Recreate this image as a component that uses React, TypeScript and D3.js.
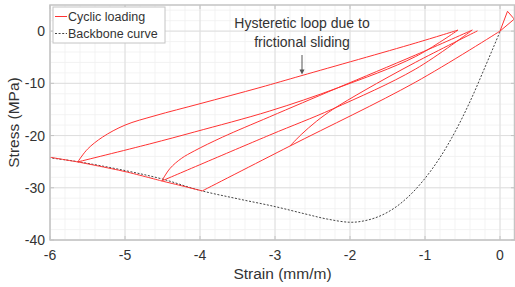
import * as d3 from "d3";

// strain (mm/m), stress (MPa)
const backbone: [number, number][] = [
  [-6.3, -23.5], [-6, -24.25], [-5.63, -25.0], [-5, -26.7], [-4.51, -28.3],
  [-4, -30.5], [-3.5, -32.1], [-3, -33.6], [-2.6, -35.0], [-2.3, -36.0],
  [-2, -36.6], [-1.8, -36.3], [-1.6, -35.4], [-1.4, -33.8], [-1.2, -31.4],
  [-1, -28.2], [-0.8, -24.2], [-0.6, -19.3], [-0.4, -13.5], [-0.2, -6.9], [0, -0.1],
];

// cyclic loading branches
const preload: [number, number][] = [[0, 0], [0.1, 3.8], [0.19, 2.3], [0, 0]];
const firstLoading: [number, number][] = [[0, 0], [-1.13, -9.8], [-2.8, -22.0], [-3.97, -30.6]];
const unloadK: [number, number][] = [
  [-2.8, -22], [-2.65, -19.8], [-2.45, -17.3], [-2.23, -15.0], [-1.8, -11.3], [-1.13, -6.0], [-0.3, 0.05],
];
const envelopeRQ: [number, number][] = [[-3.97, -30.6], [-4.25, -29.6], [-4.51, -28.7]];
const unloadQ: [number, number][] = [
  [-4.51, -28.7], [-4.4, -26.3], [-4.25, -24.4], [-4.07, -22.9], [-3.7, -20.3],
  [-3.07, -16.4], [-2.17, -10.9], [-1.13, -4.6], [-0.37, 0.2],
];
const reloadQ: [number, number][] = [[-0.37, 0.2], [-1.13, -7.3], [-2.23, -14.9], [-3.07, -19.9], [-4.51, -28.7]];
const envelopeQP: [number, number][] = [[-4.51, -28.7], [-5.0, -26.9], [-5.63, -25.05]];
const unloadP: [number, number][] = [
  [-5.63, -25.05], [-5.5, -22.6], [-5.3, -20.3], [-5.0, -18.0], [-4.6, -16.2], [-4.0, -13.9],
  [-3.2, -10.8], [-2.64, -8.5], [-1.13, -2.3], [-0.56, 0.2],
];
const reloadP: [number, number][] = [
  [-0.56, 0.2], [-1.13, -4.9], [-2.17, -10.9], [-3.07, -15.3], [-4.07, -19.3], [-4.67, -21.6], [-5.63, -25.05],
];
const envelopeBeyond: [number, number][] = [[-5.63, -25.05], [-6.0, -24.15], [-6.3, -23.4]];

const cyclic = [preload, firstLoading, unloadK, envelopeRQ, unloadQ, reloadQ, envelopeQP, unloadP, reloadP, envelopeBeyond];

const xTicks = [-6, -5, -4, -3, -2, -1, 0];
const yTicks = [-40, -30, -20, -10, 0];

const W = 515;
const H = 287;
const font = "'Liberation Sans', Arial, sans-serif";

export default function App() {
  const x = d3.scaleLinear().domain([-6, 0.2]).range([50, 515]);
  const y = d3.scaleLinear().domain([-40, 5]).range([240, 5]);
  const [x0, x1] = x.range();
  const [y0, y1] = y.range();

  const smooth = d3.line<[number, number]>()
    .x((d) => x(d[0]))
    .y((d) => y(d[1]))
    .curve(d3.curveCatmullRom.alpha(0.5));
  const straight = d3.line<[number, number]>()
    .x((d) => x(d[0]))
    .y((d) => y(d[1]));

  const minorX = d3.range(-6, 0.21, 0.2);
  const minorY = d3.range(-40, 5.01, 2);

  const arrowX = x(-2.64);
  const arrowTip = y(-8.5) - 1;

  return (
    <svg width={W} height={H} style={{ position: "absolute", left: 0, top: 0, background: "#fff" }}>
      <defs>
        <clipPath id="plot">
          <rect x={x0} y={y1} width={x1 - x0} height={y0 - y1} />
        </clipPath>
      </defs>

      {/* minor grid */}
      {minorX.map((v, i) => (
        <line key={"mx" + i} x1={x(v)} x2={x(v)} y1={y1} y2={y0} stroke="#f0f0f0" strokeWidth={0.8} />
      ))}
      {minorY.map((v, i) => (
        <line key={"my" + i} x1={x0} x2={x1} y1={y(v)} y2={y(v)} stroke="#f0f0f0" strokeWidth={0.8} />
      ))}
      {/* major grid */}
      {xTicks.map((v) => (
        <line key={"gx" + v} x1={x(v)} x2={x(v)} y1={y1} y2={y0} stroke="#dedede" strokeWidth={1} />
      ))}
      {yTicks.map((v) => (
        <line key={"gy" + v} x1={x0} x2={x1} y1={y(v)} y2={y(v)} stroke="#dedede" strokeWidth={1} />
      ))}

      <g clipPath="url(#plot)">
        <path d={smooth(backbone) ?? ""} fill="none" stroke="#444" strokeWidth={1} strokeDasharray="2,1.6" />
        {cyclic.map((b, i) => (
          <path
            key={"c" + i}
            d={(b === preload ? straight(b) : smooth(b)) ?? ""}
            fill="none"
            stroke="#ff3333"
            strokeWidth={1}
          />
        ))}
      </g>

      {/* axes box */}
      <rect x={x0} y={y1} width={x1 - x0 - 0.5} height={y0 - y1} fill="none" stroke="#c4c4c4" strokeWidth={1.5} />
      {xTicks.map((v) => (
        <g key={"tx" + v}>
          <line x1={x(v)} x2={x(v)} y1={y0} y2={y0 - 4} stroke="#c4c4c4" />
          <line x1={x(v)} x2={x(v)} y1={y1} y2={y1 + 4} stroke="#c4c4c4" />
          <text x={x(v)} y={y0 + 20} textAnchor="middle" fontFamily={font} fontSize={14} fill="#333">
            {v}
          </text>
        </g>
      ))}
      {yTicks.map((v) => (
        <g key={"ty" + v}>
          <line x1={x0} x2={x0 + 4} y1={y(v)} y2={y(v)} stroke="#c4c4c4" />
          <line x1={x1} x2={x1 - 4} y1={y(v)} y2={y(v)} stroke="#c4c4c4" />
          <text x={x0 - 5} y={y(v) + 5} textAnchor="end" fontFamily={font} fontSize={14} fill="#333">
            {v}
          </text>
        </g>
      ))}

      <text x={(x0 + x1) / 2} y={279} textAnchor="middle" fontFamily={font} fontSize={15.5} fill="#333">
        Strain (mm/m)
      </text>
      <text
        transform={`translate(19,${(y0 + y1) / 2}) rotate(-90)`}
        textAnchor="middle"
        fontFamily={font}
        fontSize={15.5}
        fill="#333"
      >
        Stress (MPa)
      </text>

      {/* legend */}
      <rect x={53} y={7} width={112} height={36} fill="#fff" stroke="#c4c4c4" strokeWidth={1} />
      <line x1={55} x2={67} y1={16.5} y2={16.5} stroke="#ff3333" strokeWidth={1} />
      <line x1={55} x2={67} y1={33.5} y2={33.5} stroke="#444" strokeWidth={1} strokeDasharray="2,1.6" />
      <text x={68} y={21} fontFamily={font} fontSize={12.5} fill="#333">Cyclic loading</text>
      <text x={68} y={38} fontFamily={font} fontSize={12.5} fill="#333">Backbone curve</text>

      {/* annotation */}
      <text x={302} y={28} textAnchor="middle" fontFamily={font} fontSize={14} fill="#333">
        Hysteretic loop due to
      </text>
      <text x={302} y={47} textAnchor="middle" fontFamily={font} fontSize={14} fill="#333">
        frictional sliding
      </text>
      <line x1={arrowX} x2={arrowX} y1={55} y2={arrowTip - 4} stroke="#555" strokeWidth={1} />
      <path
        d={`M${arrowX - 2.5},${arrowTip - 5} L${arrowX + 2.5},${arrowTip - 5} L${arrowX},${arrowTip} Z`}
        fill="#555"
      />
    </svg>
  );
}
